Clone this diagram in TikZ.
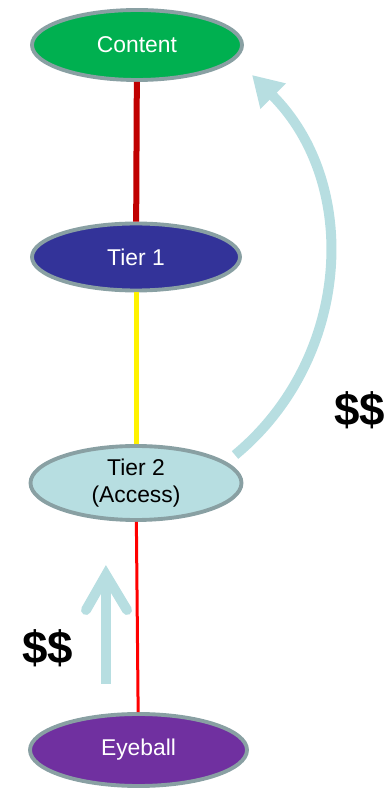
\documentclass[tikz,border=0pt]{standalone}
\usepackage{fontspec}
\setmainfont{Liberation Sans}
\usepackage{tikz}
\usetikzlibrary{shapes.geometric,arrows.meta}
\definecolor{rim}{RGB}{137,160,163}
\definecolor{contentgreen}{RGB}{0,176,80}
\definecolor{tierblue}{RGB}{51,51,153}
\definecolor{accessblue}{RGB}{183,222,225}
\definecolor{eyepurple}{RGB}{112,48,160}
\definecolor{darkred}{RGB}{192,0,0}

\begin{document}
\begin{tikzpicture}[
  tier/.style={ellipse, draw=rim, line width=2.2pt, inner sep=0pt,
    font=\fontsize{13}{15}\selectfont, align=center},
  pay/.style={accessblue, line width=0.2cm},
  money/.style={font=\fontsize{26}{30}\selectfont\bfseries}]
\useasboundingbox (0,0) rectangle (7.82,15.78);
\node [tier, fill=contentgreen, text=white, minimum width=4.20cm, minimum height=1.40cm] (content) at (2.74,14.88) {Content};
\node [tier, fill=tierblue, text=white, minimum width=4.16cm, minimum height=1.34cm] (tier1) at (2.72,10.64) {Tier 1};
\node [tier, fill=accessblue, text=black, minimum width=4.22cm, minimum height=1.48cm] (tier2) at (2.72,6.12) {Tier 2\\(Access)};
\node [tier, fill=eyepurple, text=white, minimum width=4.34cm, minimum height=1.44cm] (eyeball) at (2.77,0.78) {Eyeball};
\draw [darkred, line width=0.12cm] (content) -- (tier1);
\draw [yellow, line width=0.10cm] (tier1) -- (tier2);
\draw [red, line width=0.06cm] (tier2) -- (eyeball);
% money going up to the content
\coordinate (paystart) at (4.70,6.68);
\coordinate (paytip) at (5.04,14.28);
\draw [pay, -{Triangle[length=0.6cm, width=0.68cm]}] (paystart) .. controls (7.0,8.58) and (7.24,12.08) .. (paytip);
\node [money] (paytop) at (7.20,7.58) {\$\$};
% money going up from the eyeball
\coordinate (upbottom) at (2.12,2.10);
\coordinate (uptip) at (2.12,4.28);
\draw [pay] (upbottom) -- (uptip);
\draw [pay, line cap=round, line join=miter] (1.72,3.58) -- (uptip) -- (2.54,3.58);
\node [money] (paybottom) at (0.96,2.82) {\$\$};
\end{tikzpicture}
\end{document}
